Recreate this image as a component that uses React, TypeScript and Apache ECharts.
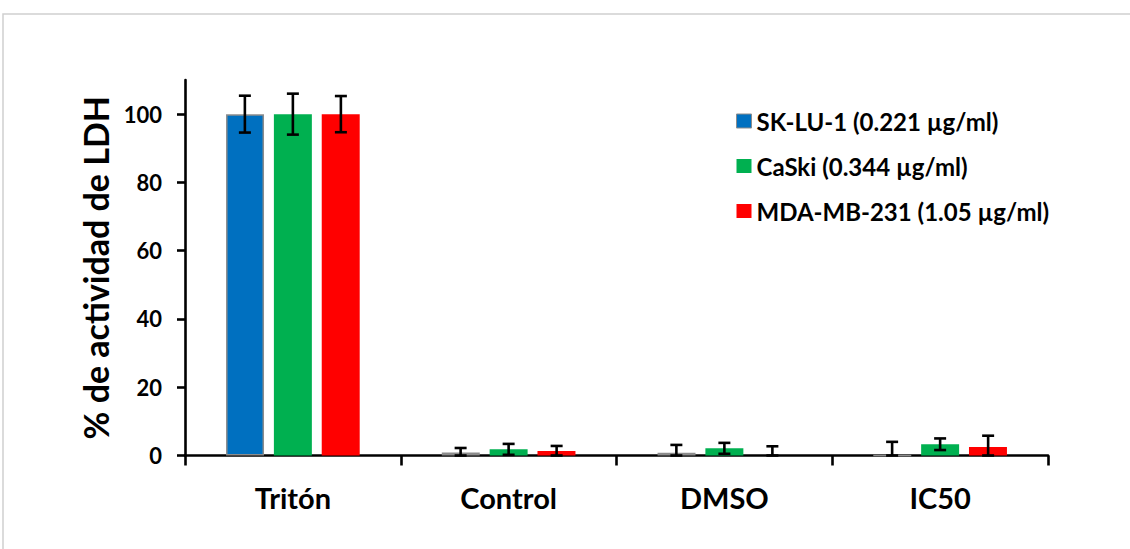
import React, { useEffect, useRef } from "react";
import * as echarts from "echarts";

const categories = ["Tritón", "Control", "DMSO", "IC50"];
const seriesNames = ["SK-LU-1 (0.221 µg/ml)", "CaSki (0.344 µg/ml)", "MDA-MB-231 (1.05 µg/ml)"];
const skluValues = [100, 0.9, 0.8, 0];
const skluErrors = [5.4, 1.3, 2.3, 4.0];
const caskiValues = [100, 1.8, 2.1, 3.3];
const caskiErrors = [6.0, 1.6, 1.6, 1.7];
const mdaValues = [100, 1.3, 0, 2.5];
const mdaErrors = [5.3, 1.5, 2.7, 3.3];
const yTicks = [0, 20, 40, 60, 80, 100];
const colors = ["#0070C0", "#00B050", "#FF0000"];

const FONT = "Lato";

export default function App() {
  const ref = useRef<HTMLDivElement>(null);
  useEffect(() => {
    if (!ref.current) return;
    const chart = echarts.init(ref.current, null, { renderer: "svg" });
    const values = [skluValues, caskiValues, mdaValues];
    const errors = [skluErrors, caskiErrors, mdaErrors];
    const offsets = [-1, 0, 1];

    const barSeries = values.map((vals, i) => ({
      type: "bar",
      name: seriesNames[i],
      data: vals,
      barWidth: "17.6%",
      barGap: "26%",
      itemStyle: {
        color: colors[i],
        borderColor: i === 0 ? "#8c8c8c" : colors[i],
        borderWidth: i === 0 ? 1.5 : 0,
      },
      z: 2,
    }));

    const errSeries = values.map((vals, i) => ({
      type: "custom",
      name: "err" + i,
      data: vals.map((v, k) => [k, v, errors[i][k]]),
      z: 5,
      renderItem: (params: any, api: any) => {
        const k = api.value(0);
        const v = api.value(1);
        const e = api.value(2);
        const band = api.size([1, 0])[0];
        const dx = offsets[i] * band * 0.2225;
        const top = api.coord([k, v + e]);
        const bot = api.coord([k, Math.max(0, v - e)]);
        const x = top[0] + dx;
        const cap = 6;
        const style = { stroke: "#000", lineWidth: 2.6 };
        return {
          type: "group",
          children: [
            { type: "line", shape: { x1: x, y1: top[1], x2: x, y2: bot[1] }, style },
            { type: "line", shape: { x1: x - cap, y1: top[1], x2: x + cap, y2: top[1] }, style },
            { type: "line", shape: { x1: x - cap, y1: bot[1], x2: x + cap, y2: bot[1] }, style },
          ],
        };
      },
    }));

    chart.setOption({
      animation: false,
      textStyle: { fontFamily: FONT },
      graphic: [
        {
          type: "rect",
          shape: { x: 3, y: 14, width: 1200, height: 700 },
          style: { fill: "none", stroke: "#d0d0d0", lineWidth: 1.5 },
          silent: true,
        },
      ],
      legend: {
        data: seriesNames.map((n, i) => ({
          name: n,
          itemStyle: i === 0 ? { borderColor: "#8c8c8c", borderWidth: 1 } : {},
        })),
        orient: "vertical",
        left: 731,
        top: 104,
        itemWidth: 15,
        itemHeight: 14,
        itemGap: 21,
        icon: "rect",
        textStyle: { fontFamily: FONT, fontWeight: "bold", fontSize: 24, lineHeight: 24, color: "#000" },
      },
      grid: { left: 185, right: 82, top: 80, bottom: 93.5, containLabel: false },
      xAxis: {
        type: "category",
        data: categories,
        axisLine: { lineStyle: { color: "#000", width: 2.6 } },
        axisTick: { show: true, length: 10, interval: 0, lineStyle: { color: "#000", width: 2.6 } },
        axisLabel: { fontFamily: FONT, fontWeight: "bold", fontSize: 29, color: "#000", margin: 27 },
      },
      yAxis: {
        type: "value",
        min: 0,
        max: 110,
        interval: 10,
        name: "% de actividad de LDH",
        nameLocation: "middle",
        nameGap: 73,
        nameRotate: 90,
        nameTextStyle: { fontFamily: FONT, fontWeight: "bold", fontSize: 34, color: "#000" },
        splitLine: { show: false },
        axisLine: { show: true, lineStyle: { color: "#000", width: 2.6 } },
        axisTick: { show: true, length: 8, customValues: yTicks, lineStyle: { color: "#000", width: 2.6 } },
        axisLabel: {
          fontFamily: FONT,
          fontWeight: "bold",
          fontSize: 22,
          color: "#000",
          margin: 23,
          customValues: yTicks,
        },
      },
      series: [...barSeries, ...errSeries],
    });
    return () => chart.dispose();
  }, []);
  return (
    <div
      ref={ref}
      style={{ position: "fixed", left: 0, top: 0, width: 1130, height: 549, background: "#fff" }}
    />
  );
}
